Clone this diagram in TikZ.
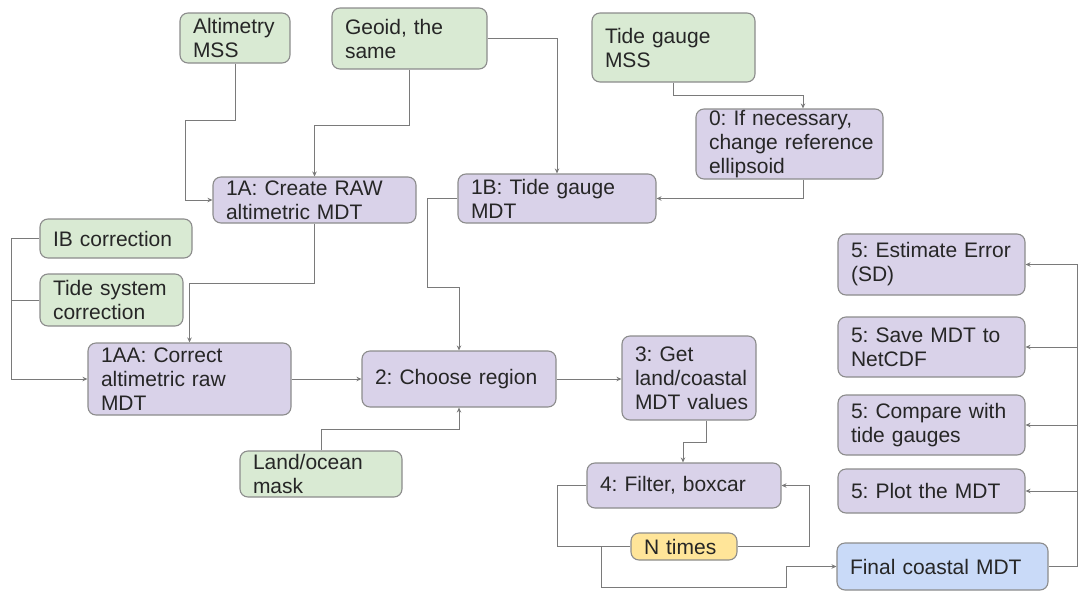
\documentclass[tikz,border=0pt]{standalone}
\usepackage{fontspec}
\setmainfont{Liberation Sans}
\usetikzlibrary{arrows.meta,calc}
\definecolor{gfill}{HTML}{D9EAD3}
\definecolor{pfill}{HTML}{D9D2E9}
\definecolor{bfill}{HTML}{C9DAF8}
\definecolor{yfill}{HTML}{FFE599}
\definecolor{bline}{HTML}{8C8C8C}
\definecolor{cline}{HTML}{7A7A7A}
\definecolor{txt}{HTML}{262626}
\newcommand{\ml}[1]{\mbox{#1}}
\begin{document}
\begin{tikzpicture}[x=1pt,y=-1pt,
  box/.style n args={3}{draw=bline, rounded corners=8pt, line width=1.1pt, align=left,
    inner xsep=13pt, inner ysep=0pt, font=\fontsize{21}{24}\selectfont, text=txt,
    execute at begin node={\frenchspacing\hyphenpenalty=10000\exhyphenpenalty=10000},
    minimum width=#1, text width=#2, minimum height=#3},
  gbox/.style n args={3}{box={#1}{#2}{#3}, fill=gfill},
  pbox/.style n args={3}{box={#1}{#2}{#3}, fill=pfill},
  bbox/.style n args={3}{box={#1}{#2}{#3}, fill=bfill},
  ybox/.style n args={3}{box={#1}{#2}{#3}, fill=yfill},
  conn/.style={draw=cline, line width=1pt, -{Stealth[length=5pt,width=4.5pt]}},
  plain/.style={draw=cline, line width=1pt}]
\useasboundingbox (0,0) rectangle (1080,595);
% nodes
\node[gbox={110pt}{84pt}{50pt}] (alt) at (235,38) {Altimetry\\MSS};
\node[gbox={155pt}{129pt}{61pt}] (geoid) at (409.5,38.5) {Geoid, the\\same};
\node[gbox={163pt}{137pt}{69pt}] (tgmss) at (673.5,47.5) {Tide gauge\\MSS};
\node[pbox={187pt}{161pt}{70pt}] (zero) at (789.5,144) {\ml{0: If necessary,}\\\ml{change reference}\\ellipsoid};
\node[pbox={203pt}{177pt}{46pt}] (a1) at (314.5,200) {1A: Create RAW\\altimetric MDT};
\node[pbox={198pt}{172pt}{49pt}] (b1) at (557,198.5) {1B: Tide gauge\\MDT};
\node[gbox={152pt}{126pt}{39pt}] (ib) at (116,238.5) {IB correction};
\node[gbox={143pt}{117pt}{52pt}] (tsys) at (111.5,300) {Tide system\\correction};
\node[pbox={203pt}{177pt}{72pt}] (aa) at (189.5,379) {1AA: Correct\\altimetric raw\\MDT};
\node[pbox={194pt}{168pt}{56pt}] (two) at (459,379) {2: Choose region};
\node[pbox={134pt}{108pt}{84pt}] (three) at (689,378) {3: Get\\\ml{land/coastal}\\\ml{MDT values}};
\node[gbox={162pt}{136pt}{46pt}] (land) at (321,474) {Land/ocean\\mask};
\node[pbox={194pt}{168pt}{45pt}] (four) at (684,485.5) {4: Filter, boxcar};
\node[ybox={106pt}{80pt}{27pt}] (nt) at (684,546.5) {N times};
\node[pbox={187pt}{161pt}{61pt}] (e5) at (931.5,264.5) {\ml{5: Estimate Error}\\(SD)};
\node[pbox={187pt}{161pt}{60pt}] (s5) at (931.5,347) {5: Save MDT to\\NetCDF};
\node[pbox={187pt}{161pt}{60pt}] (c5) at (931.5,425) {\ml{5: Compare with}\\tide gauges};
\node[pbox={187pt}{161pt}{44pt}] (p5) at (931.5,491) {5: Plot the MDT};
\node[bbox={211pt}{185pt}{47pt}] (final) at (942.5,566.5) {Final coastal MDT};
% connectors
\draw[conn] (alt.south) -- ++(0,57) -- ++(-50,0) |- (a1.west);
\draw[conn] (geoid.south) -- ++(0,56) -| (a1.north);
\draw[conn] (geoid.east) -| (b1.north);
\draw[conn] (tgmss.south) -- ++(0,13) -| ([xshift=13.5pt]zero.north);
\draw[conn] ([xshift=13.5pt]zero.south) |- (b1.east);
\draw[conn] (a1.south) -- ++(0,60) -| (aa.north);
\draw[conn] (ib.west) -- ++(-28,0) |- (aa.west);
\draw[plain] (tsys.west) -- ++(-28,0);
\draw[conn] (b1.west) -- ++(-30,0) -- ++(0,89) -| (two.north);
\draw[conn] (aa.east) -- (two.west);
\draw[conn] (land.north) -- ++(0,-21) -| (two.south);
\draw[conn] (two.east) -- (two.east -| three.west);
\draw[conn] ([xshift=17pt]three.south) -- ++(0,22) -| ([xshift=-1pt]four.north);
\draw[plain] (four.west) -- ++(-29,0) |- (nt.west);
\draw[conn] (nt.east) -- ++(72,0) |- (four.east);
\coordinate (lj) at ([xshift=-29pt]nt.west);
\draw[conn] (lj) -- ++(0,40.5) -- ++(185,0) |- (final.west);
\coordinate (bus) at ([xshift=29pt]final.east);
\draw[conn] (final.east) -- (bus) |- (e5.east);
\draw[conn] (bus |- s5.east) -- (s5.east);
\draw[conn] (bus |- c5.east) -- (c5.east);
\draw[conn] (bus |- p5.east) -- (p5.east);
\end{tikzpicture}
\end{document}
